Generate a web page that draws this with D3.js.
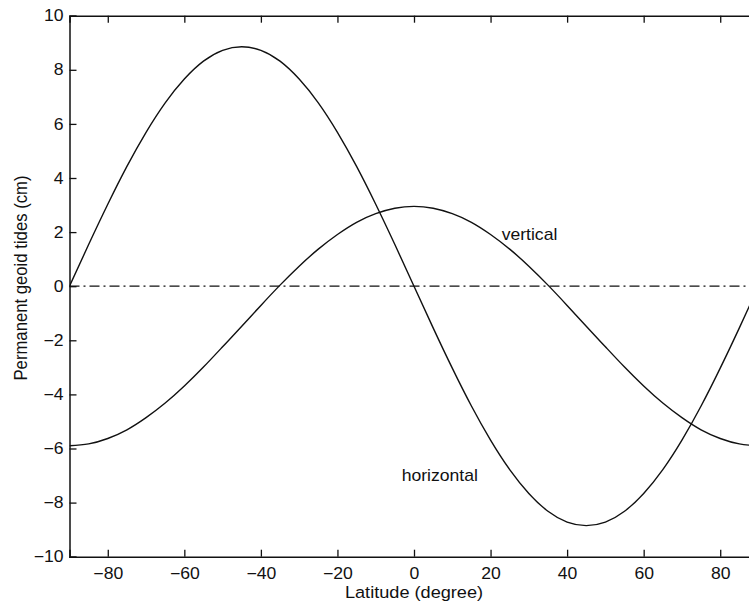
<!DOCTYPE html>
<html>
<head>
<meta charset="utf-8">
<script src="https://cdn.jsdelivr.net/npm/d3@7"></script>
<style>
  html, body { margin: 0; padding: 0; background: #fff; overflow: hidden; }
  svg text { font-family: "Liberation Sans", Arial, Helvetica, sans-serif; fill: #111; }
</style>
</head>
<body>
<svg id="chart" width="749" height="603"></svg>
<script>
// Data (latitude in degrees, tide in cm)
const latitudes = [-90,-85,-80,-75,-70,-65,-60,-55,-50,-45,-40,-35,-30,-25,-20,-15,-10,-5,0,
                   5,10,15,20,25,30,35,40,45,50,55,60,65,70,75,80,85,90];
const verticalValues = [-5.90,-5.83,-5.63,-5.31,-4.86,-4.32,-3.69,-2.99,-2.24,-1.48,-0.71,0.04,0.74,1.37,1.91,2.36,2.68,2.88,2.95,
                        2.88,2.68,2.36,1.91,1.37,0.74,0.04,-0.71,-1.48,-2.24,-2.99,-3.69,-4.32,-4.86,-5.31,-5.63,-5.83,-5.90];
const horizontalValues = [0,1.54,3.03,4.43,5.69,6.78,7.66,8.32,8.72,8.85,8.72,8.32,7.66,6.78,5.69,4.43,3.03,1.54,0,
                          -1.54,-3.03,-4.43,-5.69,-6.78,-7.66,-8.32,-8.72,-8.85,-8.72,-8.32,-7.66,-6.78,-5.69,-4.43,-3.03,-1.54,0];
const xTicks = [-80,-60,-40,-20,0,20,40,60,80];
const yTicks = [-10,-8,-6,-4,-2,0,2,4,6,8,10];
const curveLabels = [
  {text: "vertical", lat: 22.9, val: 1.71, anchor: "start"},
  {text: "horizontal", lat: 16.7, val: -7.19, anchor: "end"}
];

const svg = d3.select("#chart");
const mLeft = 69.5, mRight = 758.5, mTop = 15.7, mBottom = 556.7;
const sx = 1.1; // horizontal stretch of the reference lettering

const x = d3.scaleLinear().domain([-90, 90]).range([mLeft, mRight]);
const y = d3.scaleLinear().domain([-10, 10]).range([mBottom, mTop]);

const fmt = d => (d < 0 ? "\u2212" + Math.abs(d) : String(d));

// clip
svg.append("defs").append("clipPath").attr("id", "plotclip")
  .append("rect").attr("x", mLeft).attr("y", mTop).attr("width", mRight - mLeft).attr("height", mBottom - mTop);

// zero dash-dot line
svg.append("line")
  .attr("x1", x(-90)).attr("x2", x(90)).attr("y1", y(0)).attr("y2", y(0))
  .attr("stroke", "#111").attr("stroke-width", 1.3)
  .attr("stroke-dasharray", "10,4,2,4");

const line = d3.line().x((d, i) => x(latitudes[i])).y(d => y(d)).curve(d3.curveNatural);

const g = svg.append("g").attr("clip-path", "url(#plotclip)");
g.append("path").datum(verticalValues).attr("d", line)
  .attr("fill", "none").attr("stroke", "#111").attr("stroke-width", 1.4);
g.append("path").datum(horizontalValues).attr("d", line)
  .attr("fill", "none").attr("stroke", "#111").attr("stroke-width", 1.4);

// axes (MATLAB style: inward ticks, box)
const tickLen = 7;
const fontSize = 16;
const xAxisB = d3.axisBottom(x).tickValues(xTicks).tickSize(-tickLen).tickPadding(11).tickFormat(fmt);
const xAxisT = d3.axisTop(x).tickValues(xTicks).tickSize(-tickLen).tickFormat("");
const yAxisL = d3.axisLeft(y).tickValues(yTicks).tickSize(-tickLen).tickPadding(6).tickFormat(fmt);
const yAxisR = d3.axisRight(y).tickValues(yTicks).tickSize(-tickLen).tickFormat("");

function style(sel) {
  sel.select(".domain").attr("stroke", "#111").attr("stroke-width", 1.5);
  sel.selectAll(".tick line").attr("stroke", "#111").attr("stroke-width", 1.3);
  sel.selectAll(".tick text").attr("font-size", fontSize).attr("fill", "#111")
     .attr("font-family", '"Liberation Sans", Arial, Helvetica, sans-serif')
     .each(function() {
       const t = d3.select(this);
       const tx = +t.attr("x") || 0;
       t.attr("x", 0).attr("transform", `translate(${tx},0) scale(${sx},1)`);
     });
}
svg.append("g").attr("transform", `translate(0,${mBottom})`).call(xAxisB).call(style);
svg.append("g").attr("transform", `translate(0,${mTop})`).call(xAxisT).call(style);
svg.append("g").attr("transform", `translate(${mLeft},0)`).call(yAxisL).call(style);
svg.append("g").attr("transform", `translate(${mRight},0)`).call(yAxisR).call(style);

// axis titles
svg.append("text")
  .attr("transform", `translate(${x(0)},598) scale(${sx},1)`)
  .attr("text-anchor", "middle").attr("font-size", 16.5)
  .text("Latitude (degree)");
svg.append("text")
  .attr("transform", `translate(27,278) scale(${sx},1) rotate(-90)`)
  .attr("text-anchor", "middle").attr("font-size", 16.7)
  .text("Permanent geoid tides (cm)");

// curve labels
svg.selectAll(".clabel").data(curveLabels).enter().append("text")
  .attr("class", "clabel")
  .attr("transform", d => `translate(${x(d.lat)},${y(d.val)}) scale(${sx},1)`)
  .attr("text-anchor", d => d.anchor)
  .attr("font-size", fontSize)
  .text(d => d.text);
</script>
</body>
</html>
